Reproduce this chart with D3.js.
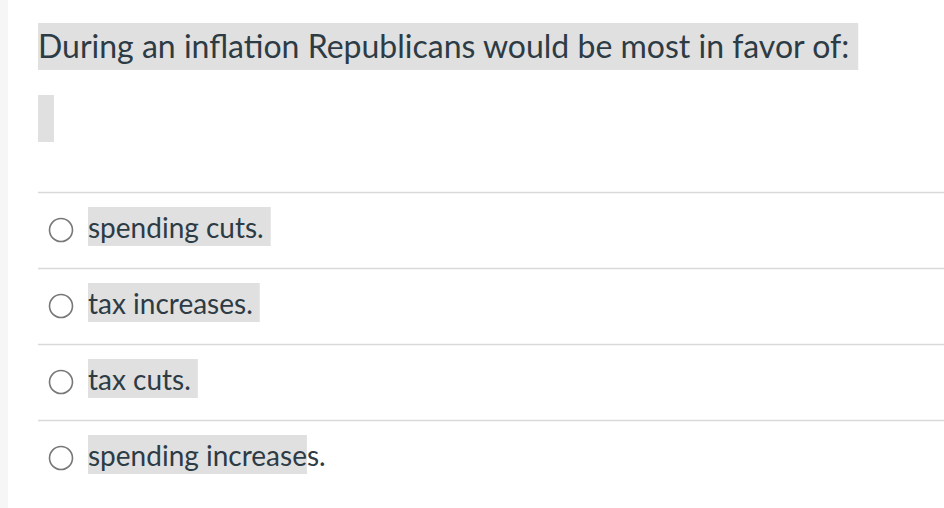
<!DOCTYPE html>
<html>
<head>
<meta charset="utf-8">
<script src="https://cdn.jsdelivr.net/npm/d3@7"></script>
<style>
  body { margin: 0; background: #fff; }
  svg { display: block; font-family: Lato, "Open Sans", sans-serif; }
</style>
</head>
<body>
<div id="quiz"></div>
<script>
// question and answer choices
const question = "During an inflation Republicans would be most in favor of:";
const choices = ["spending cuts.", "tax increases.", "tax cuts.", "spending increases."];
// how much of each choice text is highlighted (characters)
const highlighted = [14, 14, 9, 17];

const width = 944, height = 508;
const svg = d3.select("#quiz").append("svg")
  .attr("width", width)
  .attr("height", height);

// faint left edge
svg.append("rect").attr("x", 0).attr("y", 0).attr("width", 8).attr("height", height).attr("fill", "#f6f6f6");

const ink = "#2d3b45";

// question with highlight
const q = svg.append("g");
const qText = q.append("text")
  .attr("x", 38).attr("y", 58)
  .attr("font-size", 32)
  .attr("fill", ink)
  .text(question);
const qw = qText.node().getComputedTextLength();
q.insert("rect", "text")
  .attr("x", 38).attr("y", 23)
  .attr("width", qw + 9).attr("height", 47)
  .attr("fill", "#e0e0e0");

// empty answer placeholder
svg.append("rect").attr("x", 38).attr("y", 95).attr("width", 16).attr("height", 47).attr("fill", "#e0e0e0");

const y = d3.scaleBand()
  .domain(d3.range(choices.length))
  .range([192, 496])
  .paddingInner(0);

const rows = svg.selectAll("g.choice")
  .data(choices)
  .join("g")
  .attr("class", "choice")
  .attr("transform", (d, i) => `translate(0,${y(i)})`);

rows.append("line")
  .attr("x1", 38).attr("x2", width)
  .attr("y1", 0.5).attr("y2", 0.5)
  .attr("stroke", "#d9d9d9").attr("stroke-width", 1.5);

rows.append("circle")
  .attr("cx", 61).attr("cy", 38)
  .attr("r", 11.5)
  .attr("fill", "#fff")
  .attr("stroke", "#777").attr("stroke-width", 1.6);

rows.each(function (d, i) {
  const g = d3.select(this);
  const hl = g.append("rect").attr("fill", "#e0e0e0");
  const t = g.append("text")
    .attr("x", 88).attr("y", 46)
    .attr("font-size", 28)
    .attr("fill", ink)
    .text(d);
  const full = d.length === highlighted[i];
  const w = full ? t.node().getComputedTextLength() + 7
                 : t.node().getSubStringLength(0, highlighted[i]);
  hl.attr("x", 88).attr("y", 15).attr("width", w).attr("height", 39);
});
</script>
</body>
</html>
